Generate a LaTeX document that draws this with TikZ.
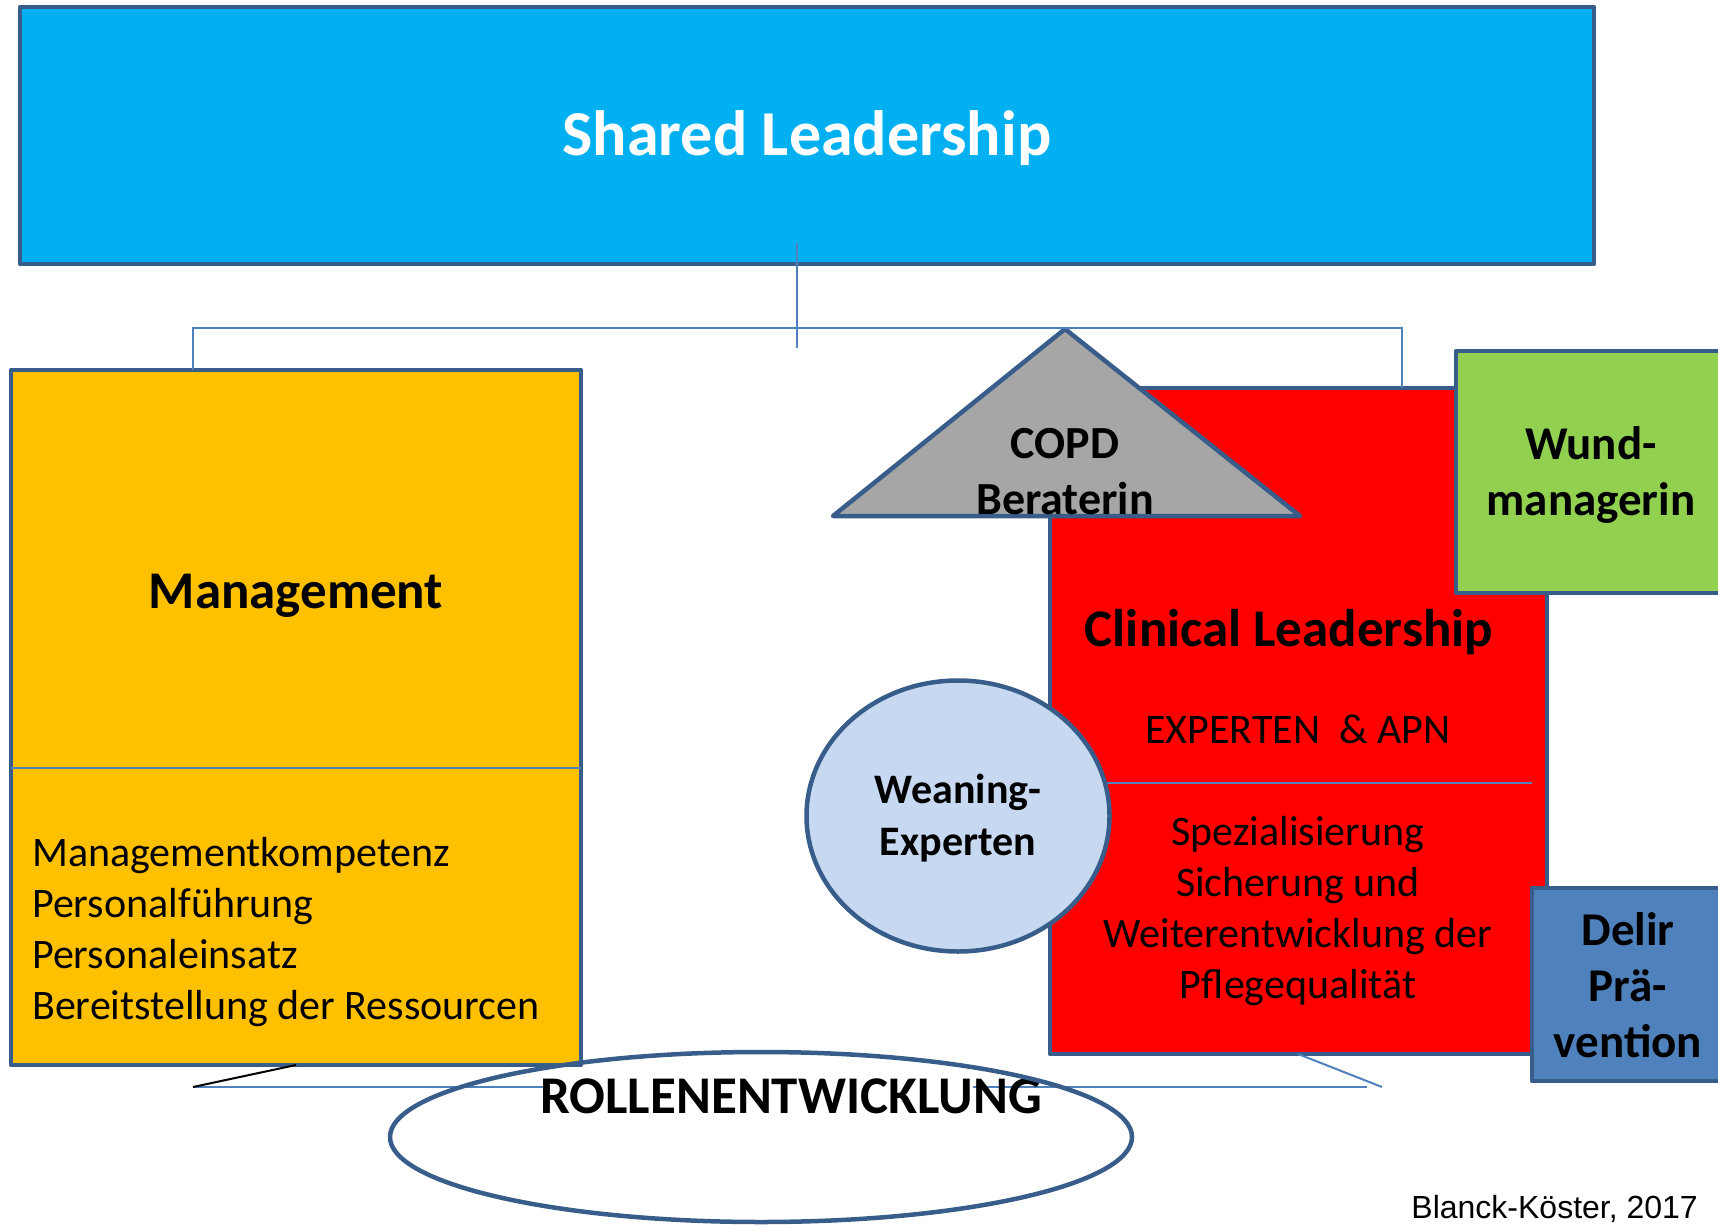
\documentclass[tikz,border=0pt]{standalone}
\usepackage{fontspec}
\setmainfont{Carlito}
\newfontfamily\citefont{Liberation Sans}
\usetikzlibrary{shapes.geometric}

\definecolor{borderblue}{HTML}{385D8A}
\definecolor{linkblue}{HTML}{4F81BD}
\definecolor{skyblue}{HTML}{00B0F0}
\definecolor{mgmtyellow}{HTML}{FFC000}
\definecolor{clinred}{HTML}{FF0000}
\definecolor{copdgray}{HTML}{A6A6A6}
\definecolor{woundgreen}{HTML}{92D050}
\definecolor{delirblue}{HTML}{4F81BD}
\definecolor{weanblue}{HTML}{C6D9F1}

% multi-line text nodes are placed by the baseline of their last line
\tikzset{
  frame/.style={draw=borderblue, line width=4.5pt, inner sep=0pt, outer sep=0pt, line join=round},
  link/.style={draw=linkblue, line width=2pt},
  txt/.style={inner sep=0pt, anchor=base, align=center},
  bodyfont/.style={font=\fontsize{42}{51}\selectfont},
  headfont/.style={font=\bfseries\fontsize{53}{64}\selectfont},
  rolefont/.style={font=\bfseries\fontsize{47}{56}\selectfont},
}

\begin{document}
\begin{tikzpicture}[x=1pt,y=-1pt]
\useasboundingbox (0,0) rectangle (1718,1225);
\clip (0,0) rectangle (1718,1225);

% bus lines joining the three levels
\coordinate (hubtop) at (797,243);
\coordinate (hubbot) at (797,348);
\coordinate (busL) at (193,328);
\coordinate (busR) at (1402,328);

% top level
\node[frame, fill=skyblue, minimum width=1574pt, minimum height=257pt] (shared) at (807,135.5) {};
\node[txt, text=white, font=\bfseries\fontsize{64}{76}\selectfont] (sharedtxt) at (807,156) {Shared Leadership};

% management column
\node[frame, fill=mgmtyellow, minimum width=570pt, minimum height=695pt] (mgmt) at (296,717.5) {};
\draw[link] (mgmt.west |- 0,768) -- (mgmt.east |- 0,768);
\node[txt, headfont] (mgmttxt) at (296,608) {Management};
\node[txt, bodyfont, anchor=base west, align=left] (mgmtlist) at (32,1019)
  {Managementkompetenz\\Personalführung\\Personaleinsatz\\Bereitstellung der Ressourcen};

% clinical leadership column
\node[frame, fill=clinred, minimum width=497pt, minimum height=666pt] (clin) at (1298.5,721) {};
\coordinate (clindivL) at (1107,783);
\coordinate (clindivR) at (1532,783);
\draw[link] (clindivL) -- (clindivR);
\node[txt, headfont] (clintxt) at (1289,646) {Clinical Leadership};
\node[txt, bodyfont] (apn) at (1298,743) {EXPERTEN\ \ \& APN};
\node[txt, bodyfont] (clinlist) at (1298,998)
  {Spezialisierung\\Sicherung und\\Weiterentwicklung der\\Pflegequalität};

% specialist roles
\node[frame, fill=woundgreen, minimum width=300pt, minimum height=242pt, anchor=north west] (wound) at (1456,351) {};
\node[txt, rolefont] (woundtxt) at (1591,515) {Wund-\\managerin};

\node[frame, fill=delirblue, minimum width=220pt, minimum height=193pt, anchor=north west] (delir) at (1532,888) {};
\node[txt, rolefont] (delirtxt) at (1628,1057) {Delir\\Prä-\\vention};

\coordinate (copdtop) at (1065,329);
\coordinate (copdL) at (833,516);
\coordinate (copdR) at (1300,516);
\draw[frame, fill=copdgray] (copdtop) -- (copdR) -- (copdL) -- cycle;
\node[txt, font=\bfseries\fontsize{46}{56}\selectfont] (copdtxt) at (1065,514) {COPD\\Beraterin};

\node[frame, ellipse, fill=weanblue, minimum width=303pt, minimum height=271pt] (wean) at (958,816) {};
\node[txt, font=\bfseries\fontsize{42}{52}\selectfont] (weantxt) at (958,855) {Weaning-\\Experten};

% bus connectors
\draw[link] (hubtop) -- (hubbot);
\draw[link] (mgmt.north -| busL) -- (busL) -- (busR) -- (clin.north -| busR);

% base line carrying the role development
\coordinate (lowL) at (193,1087);
\coordinate (gapL) at (549,1087);
\coordinate (gapR) at (973,1087);
\coordinate (lowR) at (1367,1087);
\coordinate (lowdiag) at (1382,1087);
\draw[link, line width=2.5pt] (lowL) -- (gapL);
\draw[link, line width=2.5pt] (gapR) -- (lowR);
\draw[black, line width=2pt] (lowL) -- (mgmt.south -| 296,0);
\draw[link] (clin.south -| 1298,0) -- (lowdiag);

\node[txt, font=\bfseries\fontsize{53}{62}\selectfont] (roletxt) at (791,1113) {ROLLENENTWICKLUNG};
\node[frame, ellipse, minimum width=742pt, minimum height=170pt] (role) at (761,1137) {};

% citation
\node[txt, anchor=base east, font=\citefont\fontsize{32}{36}\selectfont] (cite) at (1698,1218) {Blanck-Köster, 2017};
\end{tikzpicture}
\end{document}
